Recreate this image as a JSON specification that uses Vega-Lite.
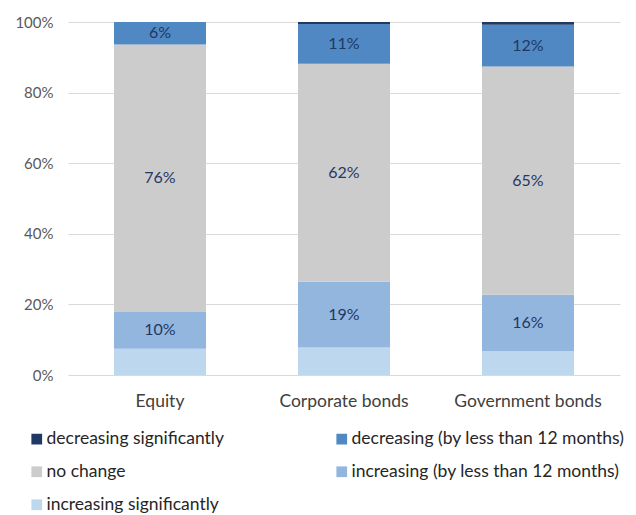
{
  "$schema": "https://vega.github.io/schema/vega-lite/v6.json",
  "width": 552,
  "height": 353,
  "autosize": {"type": "none"},
  "padding": {"left": 68, "top": 22, "right": 16, "bottom": 140},
  "background": "white",
  "config": {
    "font": "Lato",
    "view": {"stroke": null}
  },
  "data": {
    "values": [
      {"asset": "Equity", "response": "increasing significantly", "share": 0.074},
      {"asset": "Equity", "response": "increasing (by less than 12 months)", "share": 0.104},
      {"asset": "Equity", "response": "no change", "share": 0.757},
      {"asset": "Equity", "response": "decreasing (by less than 12 months)", "share": 0.064},
      {"asset": "Equity", "response": "decreasing significantly", "share": 0.0},
      {"asset": "Corporate bonds", "response": "increasing significantly", "share": 0.078},
      {"asset": "Corporate bonds", "response": "increasing (by less than 12 months)", "share": 0.186},
      {"asset": "Corporate bonds", "response": "no change", "share": 0.618},
      {"asset": "Corporate bonds", "response": "decreasing (by less than 12 months)", "share": 0.112},
      {"asset": "Corporate bonds", "response": "decreasing significantly", "share": 0.006},
      {"asset": "Government bonds", "response": "increasing significantly", "share": 0.067},
      {"asset": "Government bonds", "response": "increasing (by less than 12 months)", "share": 0.16},
      {"asset": "Government bonds", "response": "no change", "share": 0.647},
      {"asset": "Government bonds", "response": "decreasing (by less than 12 months)", "share": 0.118},
      {"asset": "Government bonds", "response": "decreasing significantly", "share": 0.008}
    ]
  },
  "transform": [
    {"calculate": "indexof(['increasing significantly', 'increasing (by less than 12 months)', 'no change', 'decreasing (by less than 12 months)', 'decreasing significantly'], datum.response)", "as": "stackRank"}
  ],
  "encoding": {
    "x": {
      "field": "asset",
      "type": "nominal",
      "sort": ["Equity", "Corporate bonds", "Government bonds"],
      "scale": {"paddingInner": 0.5, "paddingOuter": 0.25},
      "axis": {
        "title": null,
        "labelAngle": 0,
        "labelFontSize": 17.5,
        "labelColor": "#404040",
        "labelPadding": 17,
        "ticks": false,
        "domain": false
      }
    },
    "y": {
      "field": "share",
      "type": "quantitative",
      "aggregate": "sum",
      "stack": "normalize",
      "scale": {"domain": [0, 1]},
      "axis": {
        "title": null,
        "format": ".0%",
        "values": [0, 0.2, 0.4, 0.6, 0.8, 1],
        "labelFontSize": 15,
        "labelColor": "#595959",
        "labelPadding": 15,
        "ticks": false,
        "domain": false,
        "gridColor": "#d9d9d9",
        "gridWidth": 1
      }
    },
    "order": {"field": "stackRank", "type": "quantitative", "aggregate": "min", "sort": "ascending"}
  },
  "layer": [
    {
      "mark": {"type": "bar"},
      "encoding": {
        "color": {
          "field": "response",
          "type": "nominal",
          "scale": {
            "domain": [
              "decreasing significantly",
              "decreasing (by less than 12 months)",
              "no change",
              "increasing (by less than 12 months)",
              "increasing significantly"
            ],
            "range": ["#1f3864", "#4f88c3", "#cdcccc", "#93b6df", "#bdd7ee"]
          },
          "legend": {
            "title": null,
            "orient": "none",
            "legendX": -40,
            "legendY": 408,
            "direction": "horizontal",
            "columns": 2,
            "symbolType": "square",
            "symbolSize": 115,
            "symbolStrokeWidth": 0,
            "labelFontSize": 17.5,
            "labelColor": "#262626",
            "labelLimit": 400,
            "rowPadding": 14,
            "columnPadding": 109,
            "labelOffset": 1
          }
        }
      }
    },
    {
      "mark": {"type": "text", "fontSize": 16, "color": "#1f3864"},
      "encoding": {
        "y": {
          "field": "share",
          "type": "quantitative",
          "aggregate": "sum",
          "stack": "normalize",
          "bandPosition": 0.5
        },
        "detail": {"field": "response"},
        "text": {
          "condition": {
            "test": "datum.response == 'no change' || datum.response == 'increasing (by less than 12 months)' || datum.response == 'decreasing (by less than 12 months)'",
            "field": "share",
            "aggregate": "sum",
            "type": "quantitative",
            "format": ".0%"
          },
          "value": ""
        }
      }
    }
  ]
}
